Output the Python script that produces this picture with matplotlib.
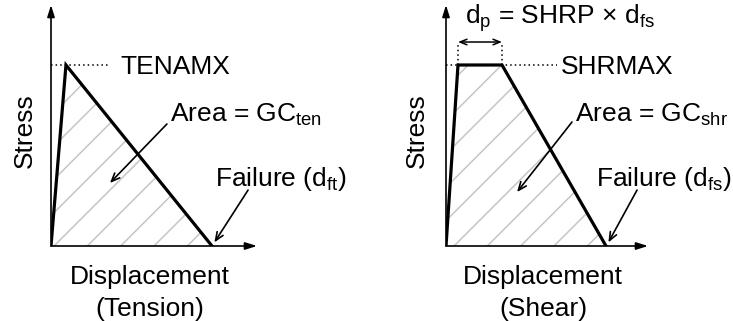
import matplotlib.pyplot as plt

plt.rcParams["font.family"] = ["Liberation Sans", "DejaVu Sans"]
plt.rcParams["mathtext.fontset"] = "custom"
plt.rcParams["mathtext.rm"] = "Liberation Sans"
plt.rcParams["mathtext.it"] = "Liberation Sans:italic"
plt.rcParams["hatch.linewidth"] = 1.1

# schematic curves (displacement normalised by failure, stress by peak)
ten_disp = [0.0, 0.093, 1.0]
ten_stress = [0.0, 1.0, 0.0]
shr_disp = [0.0, 0.075, 0.35, 1.0]
shr_stress = [0.0, 1.0, 1.0, 0.0]

ten_labels = ["TENAMX", "Area = GC$_{\\mathrm{ten}}$", "Failure (d$_{\\mathrm{ft}}$)", "(Tension)"]
shr_labels = ["SHRMAX", "Area = GC$_{\\mathrm{shr}}$", "Failure (d$_{\\mathrm{fs}}$)", "(Shear)"]
dp_label = "d$_{\\mathrm{p}}$ = SHRP \u00d7 d$_{\\mathrm{fs}}$"

W, H = 733, 321
fig = plt.figure(figsize=(W / 100, H / 100), dpi=100)
FS = 19


def fail_head(disp):
    return (disp[-1] + 0.015, 0.02)


def panel(left_px, right_px, fail_px, disp, stress, labels, pos):
    ax = fig.add_axes([left_px / W, 75 / H, (right_px - left_px) / W, 241 / H])
    xmax = (right_px - left_px) / (fail_px - left_px)
    ax.set_xlim(0, xmax)
    ax.set_ylim(0, 241 / 181)
    ax.axis("off")

    ax.fill_between(disp, stress, 0, facecolor="none", edgecolor="#c6c6c6",
                    linewidth=0, hatch="/")
    ax.plot(disp, stress, color="black", lw=2.3, solid_joinstyle="miter")

    # axes with arrow heads
    head = "-|>,head_length=0.7,head_width=0.22"
    ax.annotate("", xy=(1, 0), xytext=(0, 0), xycoords="axes fraction",
                arrowprops=dict(arrowstyle=head, color="black", lw=1.2,
                                shrinkA=0, shrinkB=0))
    ax.annotate("", xy=(0, 1), xytext=(0, 0), xycoords="axes fraction",
                arrowprops=dict(arrowstyle=head, color="black", lw=1.2,
                                shrinkA=0, shrinkB=0))

    peak_end, text_x, area_xy, area_tail, area_head, fail_xy, fail_tail, stress_x, disp_x = pos
    ax.plot([0, peak_end], [max(stress)] * 2, color="black", lw=1.1, ls=(0, (1, 2)))
    ax.text(text_x, max(stress), labels[0], fontsize=FS, va="center_baseline", ha="left")

    thin = "->,head_length=0.6,head_width=0.25"
    ax.text(area_xy[0], area_xy[1], labels[1], fontsize=FS, va="center_baseline", ha="left")
    ax.annotate("", xy=area_head, xytext=area_tail,
                arrowprops=dict(arrowstyle=thin, color="black", lw=1.2,
                                shrinkA=0, shrinkB=0))
    ax.text(fail_xy[0], fail_xy[1], labels[2], fontsize=FS, va="center_baseline", ha="left")
    ax.annotate("", xy=fail_head(disp), xytext=fail_tail,
                arrowprops=dict(arrowstyle=thin, color="black", lw=1.2,
                                shrinkA=0, shrinkB=0))

    ax.text(stress_x, 0.64, "Stress", fontsize=FS, rotation=90, ha="center", va="center")
    ax.text(disp_x, -0.155, "Displacement", fontsize=FS, ha="center", va="center_baseline")
    ax.text(disp_x, -0.337, labels[3], fontsize=FS, ha="center", va="center_baseline")
    for t in ax.texts:
        t.set_clip_on(False)
    return ax


ax1 = panel(51, 257, 212, ten_disp, ten_stress, ten_labels,
            (0.366, 0.43, (0.74, 0.74), (0.72, 0.674), (0.366, 0.348),
             (1.02, 0.392), (1.224, 0.309), -0.161, 0.615))

ax2 = panel(446, 648, 606, shr_disp, shr_stress, shr_labels,
            (0.694, 0.72, (0.806, 0.74), (0.7875, 0.685), (0.444, 0.298),
             (0.94, 0.392), (1.194, 0.309), -0.181, 0.606))

# plateau width indicator
x0, x1 = shr_disp[1], shr_disp[2]
for xv in (x0, x1):
    ax2.plot([xv, xv], [1.0, 1.12], color="black", lw=1.1, ls=(0, (1, 2)))
ax2.annotate("", xy=(x1, 1.127), xytext=(x0, 1.127),
             arrowprops=dict(arrowstyle="<->,head_length=0.5,head_width=0.2",
                             color="black", lw=1.1, shrinkA=0, shrinkB=0),
             annotation_clip=False)
ax2.text((x0 + x1) / 2 + 0.5, 1.287, dp_label, fontsize=FS, ha="center",
         va="center_baseline", clip_on=False)

fig.savefig("out.png", dpi=100)
